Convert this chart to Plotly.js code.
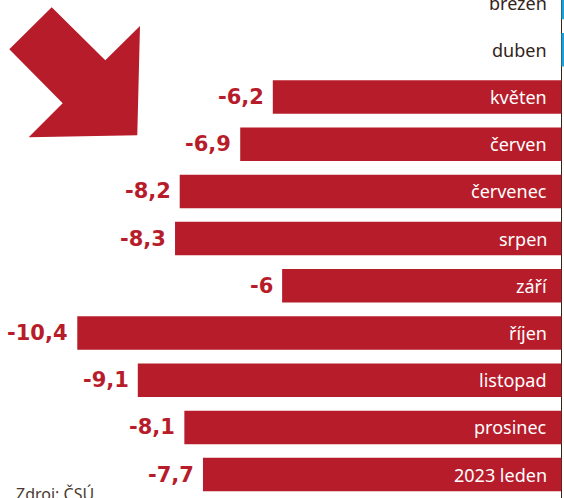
<!DOCTYPE html>
<html><head><meta charset="utf-8">
<script src="https://cdn.plot.ly/plotly-3.0.1.min.js"></script>
<style>html,body{margin:0;padding:0;background:#fff}#chart{width:564px;height:498px}</style>
</head><body><div id="chart"></div>
<script>
const months = ["březen","duben","květen","červen","červenec","srpen","září","říjen","listopad","prosinec","2023 leden"];
const values = [0.8, 1.2, -6.2, -6.9, -8.2, -8.3, -6.0, -10.4, -9.1, -8.1, -7.7];
const valueLabels = ["", "", "-6,2","-6,9","-8,2","-8,3","-6","-10,4","-9,1","-8,1","-7,7"];
const source = "Zdroj: ČSÚ";

const RED = "#b71c2a", BLUE = "#1aa3d9", DARK = "#33241c";
const colors = values.map(v => v < 0 ? RED : BLUE);

const trace = {
  type: "bar", orientation: "h",
  x: values, y: months,
  marker: {color: colors, line: {width: 0}},
  hoverinfo: "none"
};

const annotations = [];
months.forEach((m, i) => {
  annotations.push({
    x: 0, y: m, xref: "x", yref: "y", text: m, showarrow: false,
    xanchor: "right", xshift: -12, yshift: 0,
    font: {family: "Noto Sans, sans-serif", size: 18, color: values[i] < 0 ? "#ffffff" : DARK}
  });
  if (valueLabels[i]) {
    annotations.push({
      x: values[i], y: m, xref: "x", yref: "y", text: "<b>" + valueLabels[i] + "</b>", showarrow: false,
      xanchor: "right", xshift: -7, yshift: 0,
      font: {family: "DejaVu Sans, sans-serif", size: 21, color: RED}
    });
  }
});
annotations.push({
  x: 14/564, y: 0, xref: "paper", yref: "paper", xanchor: "left", yanchor: "bottom",
  text: source, showarrow: false, yshift: -9,
  font: {family: "Noto Sans, sans-serif", size: 16, color: "#4a3a30"}
});

function P(x, y) { return (x/564).toFixed(4) + "," + (1 - y/498).toFixed(4); }
const arrowPath = "M" + P(51.7,7.3) + " L" + P(105.3,60.3) + " L" + P(140,26) + " L" + P(137.3,135.3) +
  " L" + P(28.7,137.3) + " L" + P(62.7,103.3) + " L" + P(9.3,49.3) + " Z";

const layout = {
  width: 564, height: 498,
  margin: {l: 0, r: 0, t: 0, b: 0},
  paper_bgcolor: "#fff", plot_bgcolor: "#fff",
  showlegend: false,
  bargap: 0.29,
  xaxis: {range: [-12.06, 0.055], showgrid: false, showticklabels: false, ticks: "",
          zeroline: true, zerolinecolor: DARK, zerolinewidth: 1.5, fixedrange: true},
  yaxis: {autorange: false, range: [10.496, -0.055], type: "category", showgrid: false,
          showticklabels: false, ticks: "", zeroline: false, fixedrange: true},
  annotations: annotations,
  shapes: [{type: "path", xref: "paper", yref: "paper", path: arrowPath,
            fillcolor: RED, line: {width: 0}}]
};
Plotly.newPlot("chart", [trace], layout, {displayModeBar: false, staticPlot: true});
</script></body></html>
